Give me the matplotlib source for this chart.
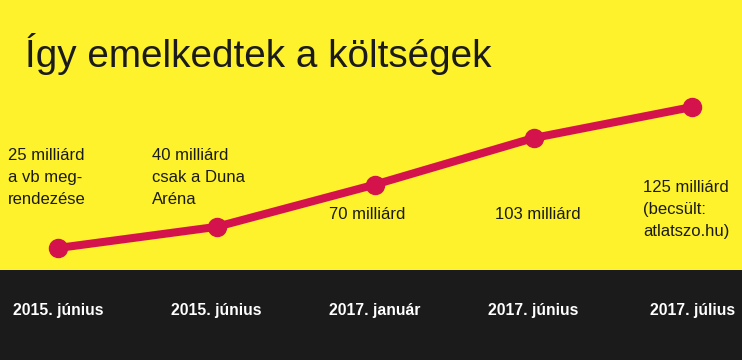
import numpy as np
import matplotlib.pyplot as plt

plt.rcParams['font.family'] = ['Liberation Sans', 'DejaVu Sans']

# data
dates = ['2015. június', '2015. június', '2017. január', '2017. június', '2017. július']
costs = [25, 40, 70, 103, 125]  # milliárd Ft
notes = ['25 milliárd\na vb meg-\nrendezése',
         '40 milliárd\ncsak a Duna\nAréna',
         '70 milliárd',
         '103 milliárd',
         '125 milliárd\n(becsült:\natlatszo.hu)']

yellow = '#FDF22B'
dark = '#1B1B1B'
red = '#D4134C'

fig = plt.figure(figsize=(7.42, 3.6), dpi=100, facecolor=dark)
ax = fig.add_axes([0, 0.25, 1, 0.75], facecolor=yellow)

x = np.arange(len(costs))
ax.plot(x, costs, color=red, linewidth=5.8, marker='o', markersize=13,
        solid_capstyle='round')

ax.set_xlim(-0.366, 4.315)
ax.set_ylim(9.4, 200.9)
ax.set_yticks([])
ax.set_xticks(x)
ax.set_xticklabels(dates, color='white', fontsize=11.3, fontweight='bold')
ax.tick_params(axis='x', length=0, pad=24)
for s in ax.spines.values():
    s.set_visible(False)

# annotation text, placed in figure coords
kw = dict(fontsize=12, color=dark, linespacing=1.6)
fig.text(0.0108, 0.590, notes[0], va='top', **kw)
fig.text(0.205, 0.590, notes[1], va='top', **kw)
fig.text(0.443, 0.392, notes[2], va='baseline', **kw)
fig.text(0.667, 0.392, notes[3], va='baseline', **kw)
fig.text(0.867, 0.500, notes[4], va='top', **kw)

fig.text(0.0337, 0.814, 'Így emelkedtek a költségek', fontsize=27.8,
         color=dark, va='baseline')

fig.savefig('out.png', dpi=100, facecolor=dark)
